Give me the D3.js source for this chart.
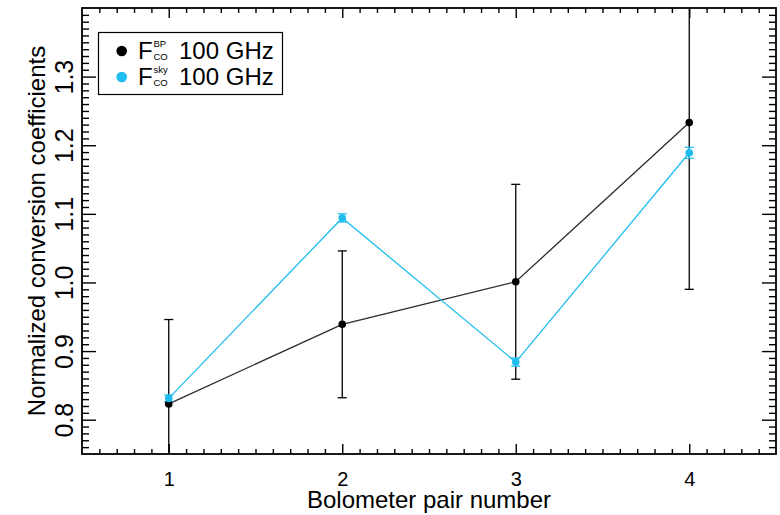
<!DOCTYPE html>
<html>
<head>
<meta charset="utf-8">
<script src="https://cdn.jsdelivr.net/npm/d3@7/dist/d3.min.js"></script>
<style>
  html, body { margin: 0; padding: 0; background: #fff; }
  svg { display: block; font-family: "Liberation Sans", Arial, Helvetica, sans-serif; }
</style>
</head>
<body>
<svg id="chart" width="780" height="515"></svg>
<script>
// Bolometer pair numbers
const pairs = [1, 2, 3, 4];

// F_CO^BP at 100 GHz: normalized conversion coefficients and 1-sigma errors
const bpValues = [0.823, 0.939, 1.001, 1.233];
const bpErrors = [0.123, 0.107, 0.142, 0.243];

// F_CO^sky at 100 GHz
const skyValues = [0.831, 1.094, 0.884, 1.189];
const skyErrors = [0.005, 0.006, 0.006, 0.008];

// Axis ticks
const xTickValues = [1, 2, 3, 4];
const xTickLabels = ["1", "2", "3", "4"];
const yTickValues = [0.8, 0.9, 1.0, 1.1, 1.2, 1.3];
const yTickLabels = ["0.8", "0.9", "1.0", "1.1", "1.2", "1.3"];

const BLACK = "#000";
const CYAN = "#1fbdee";

const svg = d3.select("#chart");
const L = 82, R = 776, T = 8, B = 454;

const x = d3.scaleLinear().domain([0.5, 4.5]).range([L, R]);
const y = d3.scaleLinear().domain([0.75, 1.40]).range([B, T]);

const xMinor = d3.range(6, 45).map(v => v / 10).filter(v => !xTickValues.some(t => Math.abs(t - v) < 1e-6));
const yMinor = d3.range(76, 140).map(v => v / 100).filter(v => !yTickValues.some(t => Math.abs(t - v) < 1e-6));

function styleAxis(g) {
  g.select(".domain").remove();
  g.selectAll(".tick line").attr("stroke", "#000").attr("stroke-width", 1.4);
}

// Bottom axis: major ticks with labels, minor ticks
svg.append("g").attr("transform", `translate(0,${B})`)
  .call(d3.axisBottom(x).tickValues(xTickValues).tickFormat((d, i) => xTickLabels[i]).tickSize(-10).tickPadding(18))
  .call(styleAxis)
  .call(g => g.selectAll("text").attr("font-size", 20).attr("fill", "#000")
    .attr("font-family", "'Liberation Sans', Arial, sans-serif"));
svg.append("g").attr("transform", `translate(0,${B})`)
  .call(d3.axisBottom(x).tickValues(xMinor).tickFormat("").tickSize(-5))
  .call(styleAxis);

// Top axis (mirrored ticks, no labels)
svg.append("g").attr("transform", `translate(0,${T})`)
  .call(d3.axisTop(x).tickValues(xTickValues).tickFormat("").tickSize(-10))
  .call(styleAxis);
svg.append("g").attr("transform", `translate(0,${T})`)
  .call(d3.axisTop(x).tickValues(xMinor).tickFormat("").tickSize(-5))
  .call(styleAxis);

// Left axis with rotated labels
svg.append("g").attr("transform", `translate(${L},0)`)
  .call(d3.axisLeft(y).tickValues(yTickValues).tickFormat((d, i) => yTickLabels[i]).tickSize(-14))
  .call(styleAxis)
  .call(g => g.selectAll("text")
    .attr("font-size", 25).attr("fill", "#000")
    .attr("font-family", "'Liberation Sans', Arial, sans-serif")
    .attr("text-anchor", "middle")
    .attr("transform", "rotate(-90)")
    .attr("x", 0).attr("y", -9).attr("dy", 0));
svg.append("g").attr("transform", `translate(${L},0)`)
  .call(d3.axisLeft(y).tickValues(yMinor).tickFormat("").tickSize(-7))
  .call(styleAxis);

// Right axis (mirrored ticks)
svg.append("g").attr("transform", `translate(${R},0)`)
  .call(d3.axisRight(y).tickValues(yTickValues).tickFormat("").tickSize(-14))
  .call(styleAxis);
svg.append("g").attr("transform", `translate(${R},0)`)
  .call(d3.axisRight(y).tickValues(yMinor).tickFormat("").tickSize(-7))
  .call(styleAxis);

// Frame
svg.append("rect")
  .attr("x", L).attr("y", T).attr("width", R - L).attr("height", B - T)
  .attr("fill", "none").attr("stroke", "#000").attr("stroke-width", 1.8);

// Axis titles
svg.append("text")
  .attr("x", (L + R) / 2).attr("y", 508)
  .attr("text-anchor", "middle").attr("font-size", 24)
  .text("Bolometer pair number");
svg.append("text")
  .attr("transform", `translate(45,${(T + B) / 2}) rotate(-90)`)
  .attr("text-anchor", "middle").attr("font-size", 24)
  .text("Normalized conversion coefficients");

// Plot contents, clipped to the frame
svg.append("clipPath").attr("id", "plotClip")
  .append("rect").attr("x", L).attr("y", T).attr("width", R - L).attr("height", B - T);
const plot = svg.append("g").attr("clip-path", "url(#plotClip)");

const series = [
  { values: bpValues, errors: bpErrors, color: BLACK, line: "#2a2a2a" },
  { values: skyValues, errors: skyErrors, color: CYAN, line: CYAN }
];

const lineGen = d3.line().x((d, i) => x(pairs[i])).y(d => y(d));

series.forEach(s => {
  plot.append("path")
    .attr("d", lineGen(s.values))
    .attr("fill", "none").attr("stroke", s.line).attr("stroke-width", 1.3);
});

series.forEach(s => {
  const eb = plot.append("g").attr("stroke", s.color).attr("stroke-width", 1.3);
  s.values.forEach((v, i) => {
    const cx = x(pairs[i]);
    const y0 = y(v - s.errors[i]), y1 = y(v + s.errors[i]);
    eb.append("line").attr("x1", cx).attr("x2", cx).attr("y1", y0).attr("y2", y1);
    eb.append("line").attr("x1", cx - 4.5).attr("x2", cx + 4.5).attr("y1", y0).attr("y2", y0);
    eb.append("line").attr("x1", cx - 4.5).attr("x2", cx + 4.5).attr("y1", y1).attr("y2", y1);
  });
});

series.forEach(s => {
  plot.append("g").selectAll("circle")
    .data(s.values).join("circle")
    .attr("cx", (d, i) => x(pairs[i])).attr("cy", d => y(d))
    .attr("r", 3.8).attr("fill", s.color);
});

// Legend
const legend = svg.append("g");
legend.append("rect")
  .attr("x", 98.5).attr("y", 32.5).attr("width", 184).attr("height", 62)
  .attr("fill", "#fff").attr("stroke", "#000").attr("stroke-width", 1.2);

const legendItems = [
  { sup: "BP", color: BLACK, dotY: 51, base: 58.5 },
  { sup: "sky", color: CYAN, dotY: 77, base: 84.5 }
];
legendItems.forEach(it => {
  legend.append("circle").attr("cx", 121.7).attr("cy", it.dotY).attr("r", 5.3).attr("fill", it.color);
  legend.append("text").attr("x", 138).attr("y", it.base).attr("font-size", 24).text("F");
  legend.append("text").attr("x", 153.5).attr("y", it.base - 11.5).attr("font-size", 9.5).text(it.sup);
  legend.append("text").attr("x", 153.5).attr("y", it.base + 1.5).attr("font-size", 9.5).text("CO");
  legend.append("text").attr("x", 179).attr("y", it.base).attr("font-size", 24).text("100 GHz");
});
</script>
</body>
</html>
